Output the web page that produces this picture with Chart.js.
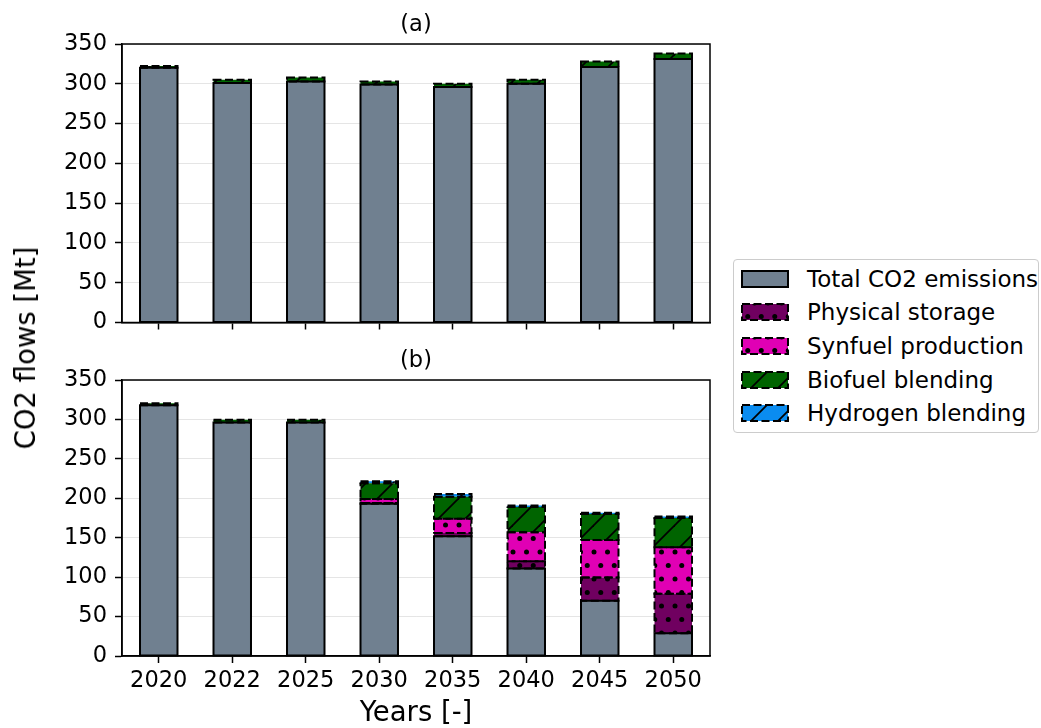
<!DOCTYPE html>
<html><head><meta charset="utf-8">
<script src="https://cdn.jsdelivr.net/npm/chart.js@4.4.1/dist/chart.umd.min.js"></script>
<style>
html,body{margin:0;padding:0;background:#fff;}
body{width:1041px;height:728px;position:relative;overflow:hidden;font-family:'DejaVu Sans',sans-serif;color:#000;}
#ca{position:absolute;left:0;top:0;}
#cb{position:absolute;left:0;top:336px;}
#ylab{position:absolute;left:25px;top:348px;transform:translate(-50%,-50%) rotate(-90deg);font-size:27.5px;white-space:nowrap;}
#legend{position:absolute;left:733px;top:259px;width:306px;height:174px;border:1px solid #cccccc;border-radius:4px;box-sizing:border-box;background:#fff;}
.row{position:absolute;left:0;height:34px;width:300px;}
.row canvas{position:absolute;left:7px;top:8px;}
.row span{position:absolute;left:73px;top:0;line-height:34px;font-size:23px;white-space:nowrap;}
</style></head>
<body>
<canvas id="ca" width="730" height="344"></canvas>
<canvas id="cb" width="730" height="393"></canvas>
<div id="ylab">CO2 flows [Mt]</div>
<div id="legend"></div>
<script>
// ---- data ----
const years = ['2020','2022','2025','2030','2035','2040','2045','2050'];
// panel (a)
const emissionsA = [320, 301, 303, 299, 296, 300, 321, 331];
const biofuelA   = [2.5, 4, 5, 4, 4, 5, 7, 7];
// panel (b)
const emissionsB = [318, 296, 296, 193, 152, 111, 70, 29];
const storageB   = [0, 0, 0, 1, 4, 9, 29.5, 50];
const synfuelB   = [0, 0, 0, 5, 18, 37, 47.5, 59];
const biofuelB   = [2.5, 3.5, 3.5, 20, 28, 32, 33, 37];
const hydrogenB  = [0, 0, 0, 2.5, 3.5, 2, 1.5, 2];
const seriesNames = ['Total CO2 emissions','Physical storage','Synfuel production','Biofuel blending','Hydrogen blending'];
const panelTitles = ['(a)','(b)'];
const xTitle = 'Years [-]';
const yMin = 0, yMax = 350, yStep = 50;

// ---- styles ----
Chart.defaults.font.family = "'DejaVu Sans', sans-serif";
Chart.defaults.color = '#000';

function makePattern(bg, kind){
  const c = document.createElement('canvas'); c.width = 27; c.height = 27;
  const g = c.getContext('2d');
  g.fillStyle = bg; g.fillRect(0,0,27,27);
  g.fillStyle = '#000'; g.strokeStyle = '#000';
  if (kind === 'dots'){
    const pts = [[0,0],[13.5,0],[27,0],[0,27],[13.5,27],[27,27],[6.75,13.5],[20.25,13.5]];
    for (const [x,y] of pts){ g.beginPath(); g.arc(x,y,2.5,0,Math.PI*2); g.fill(); }
  } else if (kind === 'diag'){
    g.lineWidth = 1.8;
    g.beginPath(); g.moveTo(-3,30); g.lineTo(30,-3); g.stroke();
    g.beginPath(); g.moveTo(-3,3); g.lineTo(3,-3); g.stroke();
    g.beginPath(); g.moveTo(24,30); g.lineTo(30,24); g.stroke();
  }
  return g.createPattern(c,'repeat');
}
const styles = [
  {color:'#708090', hatch:null, dashed:false},
  {color:'#700060', hatch:'dots', dashed:true},
  {color:'#e000b4', hatch:'dots', dashed:true},
  {color:'#006400', hatch:'diag', dashed:true},
  {color:'#0a8cf0', hatch:'diag', dashed:true}
];
function fillFor(i){ const s = styles[i]; return s.hatch ? makePattern(s.color, s.hatch) : s.color; }

const edgePlugin = {
  id:'edges',
  afterDatasetsDraw(chart){
    const ctx = chart.ctx;
    ctx.save();
    chart.data.datasets.forEach((ds, di) => {
      const meta = chart.getDatasetMeta(di);
      meta.data.forEach(el => {
        const top = Math.min(el.y, el.base), bot = Math.max(el.y, el.base);
        if (bot - top < 0.5) return;
        ctx.beginPath();
        ctx.lineWidth = 2;
        ctx.strokeStyle = '#000';
        ctx.setLineDash(ds.dashedEdge ? [8,3.5] : []);
        ctx.rect(el.x - el.width/2, top, el.width, bot - top);
        ctx.stroke();
      });
    });
    ctx.restore();
  }
};
const framePlugin = {
  id:'frame',
  afterDraw(chart){
    const {ctx, chartArea:a} = chart;
    ctx.save(); ctx.strokeStyle = '#000'; ctx.lineWidth = 1.5; ctx.setLineDash([]);
    ctx.strokeRect(a.left, a.top, a.right - a.left, a.bottom - a.top);
    ctx.restore();
  }
};

function ds(i, values){
  return {label: seriesNames[i], data: values, backgroundColor: fillFor(i), borderWidth: 0, dashedEdge: styles[i].dashed};
}

function makeChart(id, title, datasets, showX){
  return new Chart(document.getElementById(id), {
    type:'bar',
    data:{labels: years, datasets},
    options:{
      responsive:false, animation:false,
      layout:{padding:{left:0,right:20,top:0,bottom:0}},
      plugins:{
        legend:{display:false}, tooltip:{enabled:false},
        title:{display:true, text:title, fullSize:false, font:{size:22.5, weight:'normal'}, color:'#000', padding:{top:12,bottom:5}}
      },
      datasets:{bar:{categoryPercentage:1, barPercentage:0.51}},
      scales:{
        x:{
          stacked:true,
          grid:{offset:false, drawOnChartArea:false, drawTicks:true, tickLength:7, tickColor:'#000', tickWidth:1.5},
          border:{color:'#000', width:1.5},
          ticks:{display:showX, color:'#000', font:{size:22.5}, padding:5, maxRotation:0, autoSkip:false},
          title:{display:showX, text:xTitle, color:'#000', font:{size:27.5, lineHeight:1}, padding:{top:0,bottom:1}},
          afterFit(s){ s.height = showX ? 73 : 14; }
        },
        y:{
          stacked:true, min:yMin, max:yMax,
          grid:{color:'rgba(0,0,0,0.1)', lineWidth:1, tickLength:7, tickColor:'#000', tickWidth:1.5},
          border:{color:'#000', width:1.5},
          ticks:{stepSize:yStep, color:'#000', font:{size:22.5}, padding:8, autoSkip:false},
          afterFit(s){ s.width = 122; }
        }
      }
    },
    plugins:[edgePlugin, framePlugin]
  });
}

makeChart('ca', panelTitles[0], [ds(0, emissionsA), ds(3, biofuelA)], false);
makeChart('cb', panelTitles[1], [ds(0, emissionsB), ds(1, storageB), ds(2, synfuelB), ds(3, biofuelB), ds(4, hydrogenB)], true);

// ---- legend ----
const leg = document.getElementById('legend');
seriesNames.forEach((name, i) => {
  const row = document.createElement('div'); row.className = 'row';
  row.style.top = (1.5 + i*33.7) + 'px';
  const c = document.createElement('canvas'); c.width = 48; c.height = 18;
  const g = c.getContext('2d');
  g.fillStyle = fillFor(i); g.fillRect(1,1,46,16);
  g.lineWidth = 2; g.strokeStyle = '#000';
  g.setLineDash(styles[i].dashed ? [8,3.5] : []);
  g.strokeRect(1,1,46,16);
  const sp = document.createElement('span'); sp.textContent = name;
  row.appendChild(c); row.appendChild(sp); leg.appendChild(row);
});
</script>
</body></html>
